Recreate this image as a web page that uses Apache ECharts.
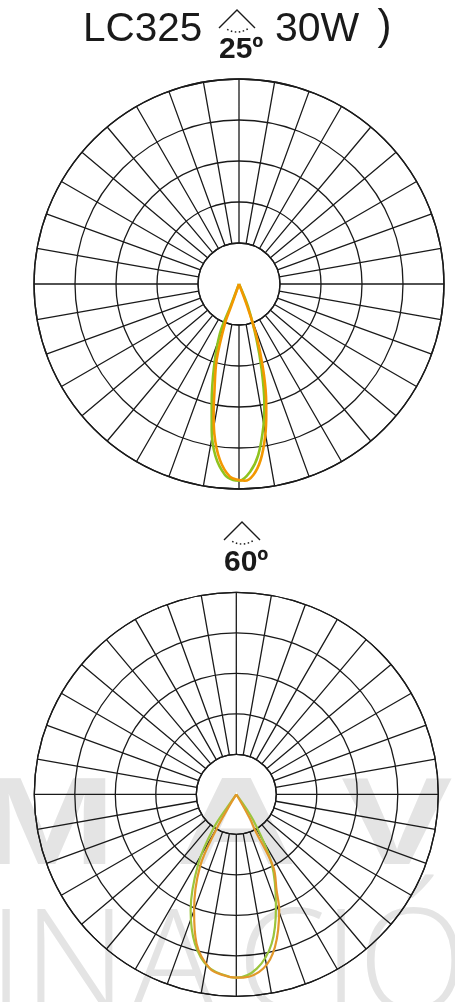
<!DOCTYPE html>
<html><head><meta charset="utf-8">
<style>html,body{margin:0;padding:0;background:#fff}#c{width:455px;height:1002px}</style>
<script src="https://cdn.jsdelivr.net/npm/echarts@6/dist/echarts.min.js"></script></head>
<body><div id="c"></div>
<script>
const seriesNames = ['C0/180', 'C90/270'];
const green25 = [[-21,0],[-20.9,11.8],[-21.1,25.8],[-16.8,42.1],[-12.9,59.7],[-10.6,72.4],[-7.7,85],[-4.2,93.4],[-1.7,95.7],[0,96],[3.4,91.7],[6.4,84],[9.7,70.6],[12,59.5],[14.8,43.4],[17.5,28.6],[21.7,11.9],[21,0]];
const orange25 = [[-20,0],[-19.4,11.7],[-19.6,20.3],[-16.4,38.6],[-12.7,54.7],[-11.1,64.3],[-9.4,73.8],[-6.2,86.3],[-2.7,94.1],[0,95.6],[1.7,96],[4.3,93.4],[7,86.5],[9.7,75.6],[11.9,64.5],[13.5,56.5],[16,42],[18.5,27.1],[20.2,11.8],[21,0]];
const green60 = [[-35,0],[-35,7],[-33.8,20.4],[-28.7,39.2],[-21.5,61.7],[-15.5,76.7],[-9.2,86.6],[-2,90.5],[0,90.8],[6.7,86.9],[13.3,76],[19.4,59.1],[27,38.5],[33.2,15.4],[33,0]];
const orange60 = [[-31,0],[-31,7],[-29.8,19.6],[-26.6,40.2],[-20,61.1],[-14.9,76.5],[-8.6,87.3],[-4.1,89.8],[0,90.8],[2.2,90.8],[8.8,87.3],[14.2,78],[20.3,61.2],[22.8,51.4],[27,40.4],[27.6,19.9],[29.3,13.8],[30,0]];
const titleLeft = 'LC325', titleRight = '30W', titleParen = ')';
const beamLabels = ['25º', '60º'];
const watermarkTop = 'MAV', watermarkBottom = 'INACIÓ';

const INK = '#1a1a1a';
const charts = [
  {center:[239,284], r:205, inner:41, g:green25, o:orange25, gc:'#8fc31f', oc:'#f39800', w:2.6},
  {center:[236.3,794.3], r:202, inner:40, g:green60, o:orange60, gc:'#9bc53d', oc:'#e2982a', w:2.2}
];
const polar=[], angleAxis=[], radiusAxis=[], series=[];
charts.forEach(c=>{
  polar.push({center:c.center, radius:[c.inner,c.r]});
  angleAxis.push({polarIndex:polar.length-1,type:'value',min:-180,max:180,interval:10,startAngle:90,clockwise:false,
    axisLine:{show:true,lineStyle:{color:INK,width:1.3}},axisTick:{show:false},axisLabel:{show:false},
    splitLine:{show:true,lineStyle:{color:INK,width:1.3}}});
  radiusAxis.push({polarIndex:polar.length-1,type:'value',min:0,max:4,interval:1,
    axisLine:{show:false},axisTick:{show:false},axisLabel:{show:false},
    splitLine:{show:true,lineStyle:{color:INK,width:1.3}}});
});
charts.forEach(c=>{
  polar.push({center:c.center, radius:[0,c.r]});
  const i=polar.length-1;
  angleAxis.push({polarIndex:i,type:'value',min:-180,max:180,startAngle:90,clockwise:false,show:false});
  radiusAxis.push({polarIndex:i,type:'value',min:0,max:100,show:false});
  [[c.g,c.gc,seriesNames[0]],[c.o,c.oc,seriesNames[1]]].forEach(([d,col,n])=>{
    series.push({type:'line',name:n,coordinateSystem:'polar',polarIndex:i,data:d.map(p=>[p[1],p[0]]),smooth:0.35,symbol:'none',
      lineStyle:{color:col,width:c.w},z:5,silent:true});
  });
});
function txt(x,y,s,size,weight,fill,z,family,scaleX){
  return {type:'text',x,y:y-size*0.83,z:z,scaleX:scaleX||1,silent:true,style:{text:s,fill,font:`${weight} ${size}px ${family||'"Liberation Sans"'}`}};
}
function icon(cx,topY){
  return [
    {type:'polyline',silent:true,z:10,shape:{points:[[cx-18,topY+18],[cx,topY],[cx+18,topY+18]]},style:{fill:'none',stroke:INK,lineWidth:1.4}},
    {type:'arc',silent:true,z:10,shape:{cx:cx,cy:topY+2,r:20,startAngle:Math.PI*0.32,endAngle:Math.PI*0.68},style:{fill:'none',stroke:INK,lineWidth:1.5,lineDash:[1.5,2.5]}}
  ];
}
const WM='#e4e4e4', LF='"Open Sans"';
const graphic=[
  txt(-23,871,watermarkTop[0],124,'bold',WM,-10,null,1.35),
  txt(176,871,watermarkTop[1],124,'bold',WM,-10,null,1.35),
  txt(341,871,watermarkTop[2],124,'bold',WM,-10,null,1.35),
  txt(-12,1019,watermarkBottom[0],144,'300',WM,-10,LF),
  txt(23,1019,watermarkBottom[1],144,'300',WM,-10,LF),
  txt(130,1019,watermarkBottom[2],144,'300',WM,-10,LF),
  txt(237,1019,watermarkBottom[3],144,'300',WM,-10,LF),
  txt(323,1019,watermarkBottom[4],144,'300',WM,-10,LF),
  txt(358,1019,watermarkBottom[5],144,'300',WM,-10,LF),
  txt(83,43,titleLeft,40.5,'normal',INK,10),
  txt(275,43,titleRight,41,'normal',INK,10),
  txt(377.5,41,titleParen,42,'normal',INK,10),
  txt(219,60,beamLabels[0],30,'bold',INK,10),
  txt(224,573,beamLabels[1],30,'bold',INK,10),
  ...icon(237,10),
  ...icon(242,522)
];
const chart=echarts.init(document.getElementById('c'),null,{renderer:'canvas'});
chart.setOption({animation:false,backgroundColor:'transparent',polar,angleAxis,radiusAxis,series,graphic});
</script></body></html>
